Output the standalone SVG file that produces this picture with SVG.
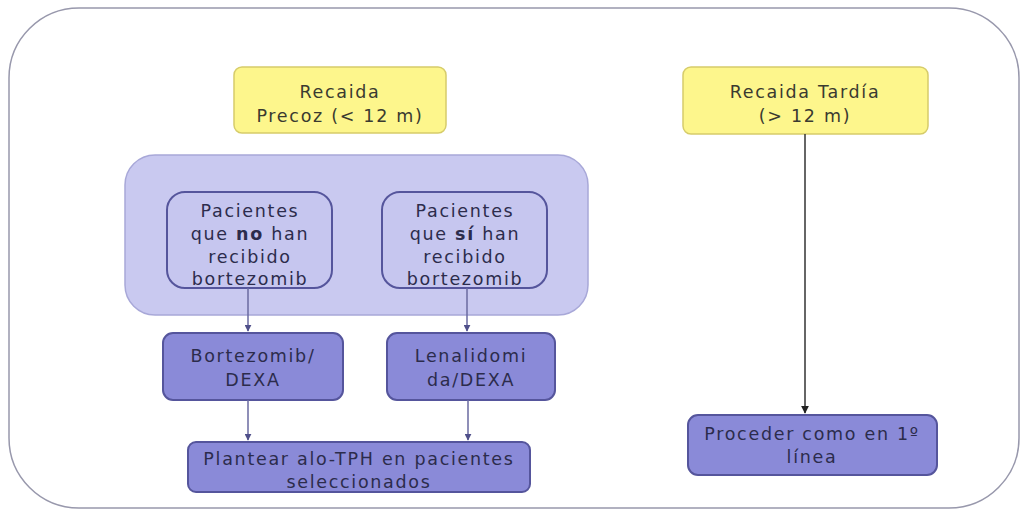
<svg xmlns="http://www.w3.org/2000/svg" width="1024" height="513" viewBox="0 0 1024 513">
<defs>
<marker id="ah" viewBox="0 0 10 10" refX="9" refY="5" markerWidth="7" markerHeight="7" orient="auto" markerUnits="userSpaceOnUse">
<path d="M0,0 L10,5 L0,10 z" fill="#50508a"/>
</marker>
<marker id="ahd" viewBox="0 0 10 10" refX="9" refY="5" markerWidth="8" markerHeight="8" orient="auto" markerUnits="userSpaceOnUse">
<path d="M0,0 L10,5 L0,10 z" fill="#222"/>
</marker>
</defs>
<style>
text{font-family:"DejaVu Sans","Liberation Sans",sans-serif;font-size:17.5px;text-anchor:middle;letter-spacing:1.7px}
.y{fill:#fdf68c;stroke:#d6cc6a;stroke-width:1.5}
.yt{fill:#3a3a30}
.lg{fill:#c9c9f0;stroke:#a8a8d8;stroke-width:1.5}
.in{fill:#c6c6ef;stroke:#55559c;stroke-width:2}
.pb{fill:#8a8ad8;stroke:#55559c;stroke-width:2}
.pt{fill:#2c2c4c}
.c{stroke:#6a6aa0;stroke-width:1.5;fill:none;marker-end:url(#ah)}
.cd{stroke:#333;stroke-width:1.5;fill:none;marker-end:url(#ahd)}
</style>
<rect x="0" y="0" width="1024" height="513" fill="#ffffff"/>
<rect id="frame" x="9" y="8" width="1010" height="500" rx="70" ry="70" fill="#fff" stroke="#9898ac" stroke-width="1.5"/>

<g id="recaida-precoz">
<rect class="y" x="234" y="67" width="212" height="66" rx="8"/>
<text class="yt" x="340" y="98">Recaida</text>
<text class="yt" x="340" y="122">Precoz (&lt; 12 m)</text>
</g>

<g id="recaida-tardia">
<rect class="y" x="683" y="67" width="245" height="67" rx="8"/>
<text class="yt" x="805" y="98">Recaida Tardía</text>
<text class="yt" x="805" y="122">(&gt; 12 m)</text>
</g>

<g id="grupo">
<rect class="lg" x="125" y="155" width="463" height="160" rx="30"/>
</g>

<g id="no-bortezomib">
<rect class="in" x="167" y="192" width="165" height="96" rx="18"/>
<text class="pt" x="250" y="217">Pacientes</text>
<text class="pt" x="250" y="240">que <tspan font-weight="bold">no</tspan> han</text>
<text class="pt" x="250" y="263">recibido</text>
<text class="pt" x="250" y="285">bortezomib</text>
</g>

<g id="si-bortezomib">
<rect class="in" x="382" y="192" width="165" height="96" rx="18"/>
<text class="pt" x="465" y="217">Pacientes</text>
<text class="pt" x="465" y="240">que <tspan font-weight="bold">sí</tspan> han</text>
<text class="pt" x="465" y="263">recibido</text>
<text class="pt" x="465" y="285">bortezomib</text>
</g>

<g id="bortezomib-dexa">
<rect class="pb" x="163" y="333" width="180" height="67" rx="10"/>
<text class="pt" x="253" y="362">Bortezomib/</text>
<text class="pt" x="253" y="386">DEXA</text>
</g>

<g id="lenalidomida-dexa">
<rect class="pb" x="387" y="333" width="168" height="67" rx="10"/>
<text class="pt" x="471" y="362">Lenalidomi</text>
<text class="pt" x="471" y="386">da/DEXA</text>
</g>

<g id="plantear">
<rect class="pb" x="188" y="442" width="342" height="50" rx="8"/>
<text class="pt" x="359" y="465">Plantear alo-TPH en pacientes</text>
<text class="pt" x="359" y="488">seleccionados</text>
</g>

<g id="proceder">
<rect class="pb" x="688" y="415" width="249" height="60" rx="10"/>
<text class="pt" x="812" y="440">Proceder como en 1º</text>
<text class="pt" x="812" y="463">línea</text>
</g>

<g id="connectors">
<path class="c" d="M248,288 V331"/>
<path class="c" d="M467,288 V331"/>
<path class="c" d="M248,400 V440"/>
<path class="c" d="M468,400 V440"/>
<path class="cd" d="M805,134 V413"/>
</g>
</svg>
